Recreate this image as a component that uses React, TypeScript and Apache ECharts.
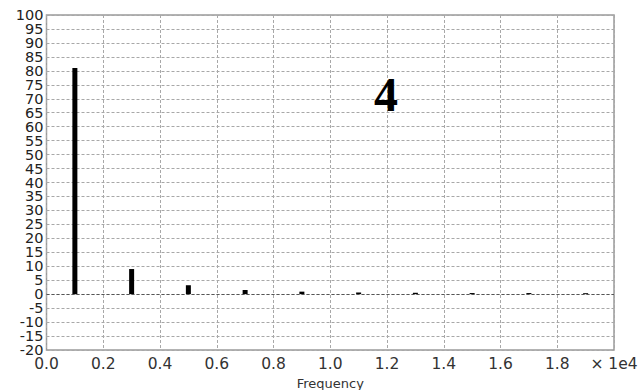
import React, { useEffect, useRef } from "react";
import * as echarts from "echarts";

const frequencies = [1000, 3000, 5000, 7000, 9000, 11000, 13000, 15000, 17000, 19000];
const amplitudes = [81, 9, 3.2, 1.5, 0.9, 0.6, 0.5, 0.4, 0.4, 0.35];
const xAxisName = "Frequency";
const annotation = "4";

const yLabelStyle = {
  fontFamily: "DejaVu Sans",
  fontSize: 14.5,
  color: "#222",
};

export default function App() {
  const ref = useRef<HTMLDivElement>(null);
  useEffect(() => {
    const chart = echarts.init(ref.current!, null, { renderer: "svg" });
    const yBase = {
      type: "value",
      min: -20,
      max: 100,
      interval: 5,
      position: "left",
      axisLine: { show: false },
      axisTick: { show: false },
    };
    chart.setOption({
      animation: false,
      backgroundColor: "#fff",
      title: {
        text: annotation,
        left: 374,
        top: 70,
        padding: 0,
        textStyle: {
          fontFamily: "Liberation Serif",
          fontWeight: "bold",
          fontSize: 48,
          color: "#000",
        },
        z: 20,
      },
      grid: {
        left: 46.5,
        right: 30,
        top: 15,
        bottom: 40,
        outerBoundsMode: "none",
        containLabel: false,
        show: true,
        borderColor: "#9a9a9a",
        borderWidth: 1.5,
        backgroundColor: "transparent",
      },
      xAxis: {
        type: "value",
        min: 0,
        max: 20000,
        interval: 2000,
        name: xAxisName,
        nameLocation: "middle",
        nameGap: 26,
        nameTextStyle: { fontFamily: "DejaVu Sans", fontSize: 13, color: "#333" },
        axisLine: { show: false },
        axisTick: { show: false },
        axisLabel: {
          fontFamily: "DejaVu Sans",
          fontSize: 15.5,
          color: "#333",
          margin: 6,
          showMinLabel: true,
          showMaxLabel: true,
          formatter: (v: number) => (v >= 20000 ? "× 1e4" : (v / 10000).toFixed(1)),
        },
        splitLine: { show: true, lineStyle: { color: "#a8a8a8", type: [3, 2], width: 1 } },
      },
      yAxis: [
        {
          ...yBase,
          axisLabel: {
            ...yLabelStyle,
            margin: 3,
            showMinLabel: true,
            showMaxLabel: true,
            formatter: (v: number) => (Math.round(v) % 10 === 0 ? String(v) : ""),
          },
          splitLine: { show: true, lineStyle: { color: "#a8a8a8", type: [3, 2], width: 1 } },
        },
        {
          ...yBase,
          axisLabel: {
            ...yLabelStyle,
            margin: 3,
            showMinLabel: false,
            showMaxLabel: false,
            formatter: (v: number) => (Math.round(v) % 10 !== 0 ? String(v) : ""),
          },
          splitLine: { show: false },
        },
      ],
      series: [
        {
          type: "bar",
          yAxisIndex: 0,
          data: frequencies.map((f, i) => [f, amplitudes[i]]),
          barWidth: 5,
          itemStyle: { color: "#000" },
          markLine: {
            silent: true,
            symbol: "none",
            label: { show: false },
            lineStyle: { color: "#555", type: [3, 2], width: 1 },
            data: [{ yAxis: 0 }],
          },
        },
      ],
    });
    return () => chart.dispose();
  }, []);
  return <div ref={ref} style={{ width: 644, height: 390, position: "absolute", left: 0, top: 0 }} />;
}
